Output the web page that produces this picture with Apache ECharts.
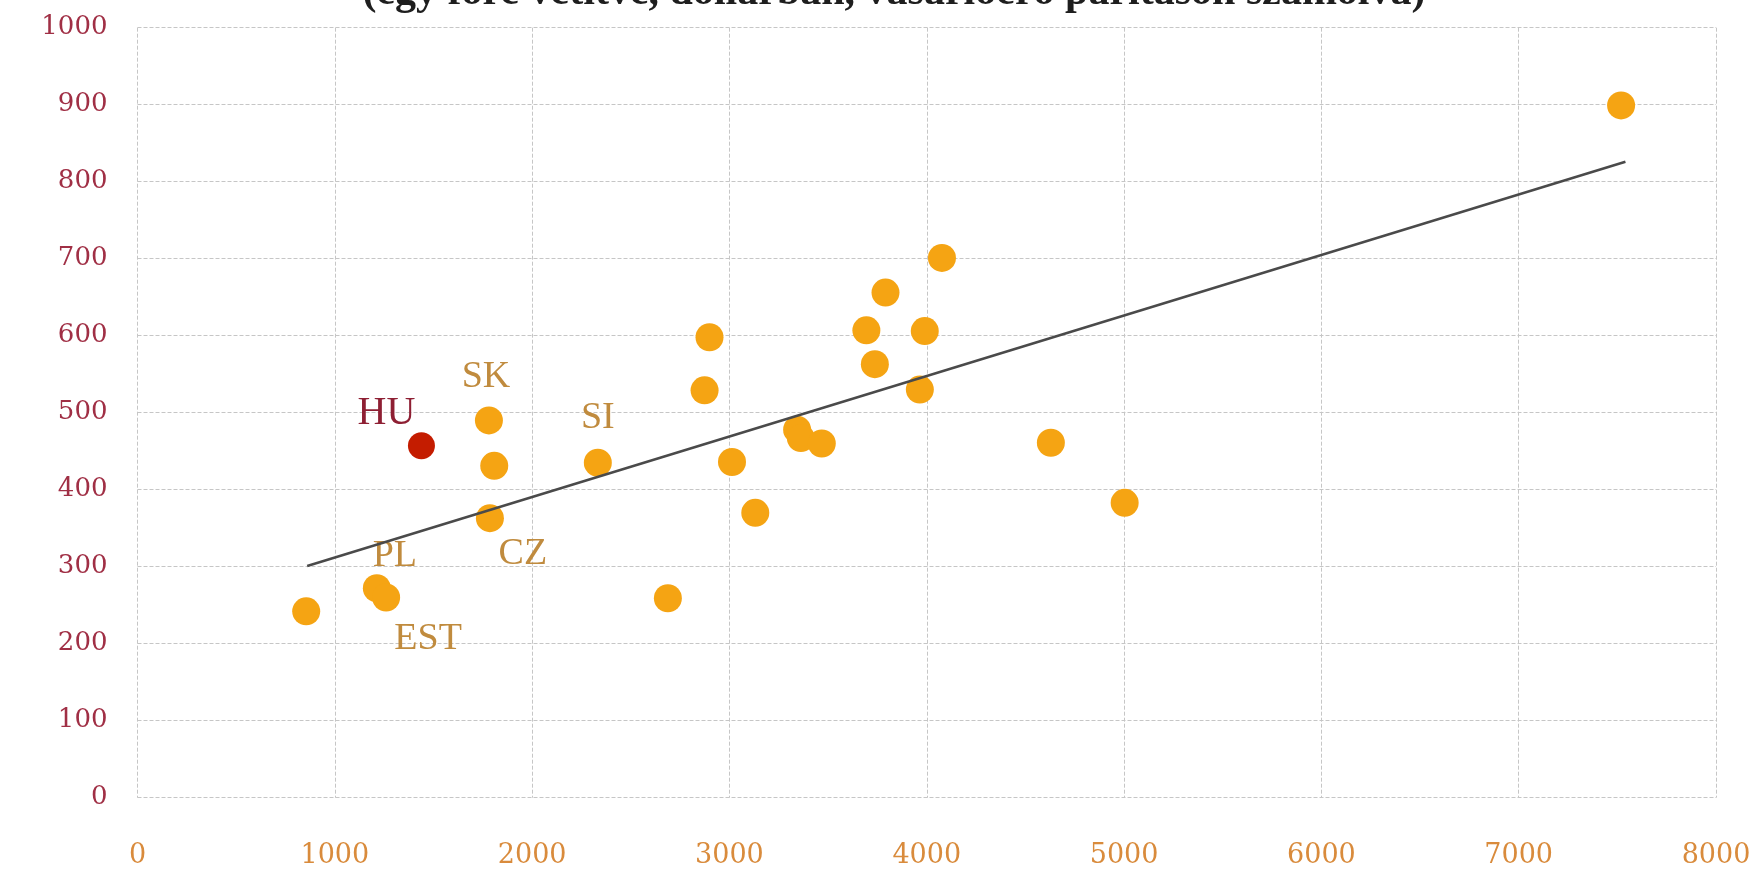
<!DOCTYPE html>
<html>
<head>
<meta charset="utf-8">
<title>Scatter</title>
<script src="https://cdn.jsdelivr.net/npm/echarts@6/dist/echarts.min.js"></script>
<style>
  html, body { margin: 0; padding: 0; background: #ffffff; }
  #chart { width: 1764px; height: 873px; }
</style>
</head>
<body>
<div id="chart"></div>
<script>
// Country observations (x: spending per head, USD PPP; y: value per head)
const xValues = [855, 1213, 1260, 1781, 1808, 1786, 2333, 2688, 2874, 2899, 3013, 3131,
                 3343, 3362, 3468, 3694, 3737, 3791, 3965, 3990, 4077, 4629, 5003, 7519];
const yValues = [242, 272, 260, 490, 431, 363, 435, 259, 529, 598, 436, 370,
                 478, 467, 460, 607, 563, 656, 530, 606, 701, 461, 383, 899];
const codes   = ['', 'PL', 'EST', 'SK', '', 'CZ', 'SI', '', '', '', '', '',
                 '', '', '', '', '', '', '', '', '', '', '', ''];

// Hungary, highlighted
const huX = [1439];
const huY = [457];
const huCode = ['HU'];

// Trend line endpoints
const trendX = [860, 7541];
const trendY = [301, 826];

// Axis ticks
const xTicks = [0, 1000, 2000, 3000, 4000, 5000, 6000, 7000, 8000];
const yTicks = [0, 100, 200, 300, 400, 500, 600, 700, 800, 900, 1000];

const titleText = '(egy főre vetítve, dollárban, vásárlóerő paritáson számolva)';

// Where each country code sits relative to its marker
const labelOffsets = {
  PL: [18, -32], EST: [42, 42], SK: [-3, -43], CZ: [33, 36], SI: [0, -45], HU: [-35, -32]
};

const serif = '"Liberation Serif", "DejaVu Serif", serif';
const gridLine = { show: true, lineStyle: { color: '#c6c6c6', type: [4, 2], width: 1 } };

function points(xs, ys, names) {
  return xs.map((x, i) => {
    const item = { value: [x, ys[i]], name: names[i] };
    if (names[i]) {
      item.label = { show: true, offset: labelOffsets[names[i]] };
    }
    return item;
  });
}

const chart = echarts.init(document.getElementById('chart'), null, { renderer: 'canvas' });
chart.setOption({
  animation: false,
  backgroundColor: '#ffffff',
  title: {
    text: titleText,
    left: 889,
    textAlign: 'center',
    top: -33,
    textStyle: { fontFamily: serif, fontWeight: 'bold', fontSize: 42, color: '#1e1e1e' }
  },
  grid: { left: 137.5, right: 48, top: 27.7, bottom: 75.3, containLabel: false },
  xAxis: {
    type: 'value',
    min: xTicks[0], max: xTicks[xTicks.length - 1], interval: 1000,
    axisLine: { show: false },
    axisTick: { show: false },
    splitLine: gridLine,
    axisLabel: {
      margin: 45, fontFamily: '"DejaVu Serif", serif', fontSize: 27, color: '#d98b3c',
      formatter: v => String(v)
    }
  },
  yAxis: {
    type: 'value',
    min: yTicks[0], max: yTicks[yTicks.length - 1], interval: 100,
    axisLine: { show: false },
    axisTick: { show: false },
    splitLine: gridLine,
    axisLabel: {
      margin: 30, fontFamily: '"DejaVu Serif", serif', fontSize: 26, color: '#a02f45',
      formatter: v => String(v)
    }
  },
  series: [
    {
      type: 'line',
      data: trendX.map((x, i) => [x, trendY[i]]),
      symbol: 'none',
      lineStyle: { color: '#4a4a4a', width: 2.5 },
      z: 3
    },
    {
      type: 'scatter',
      data: points(xValues, yValues, codes),
      symbolSize: 28,
      itemStyle: { color: '#f5a413', opacity: 1 },
      label: {
        show: false, position: 'inside',
        formatter: p => p.name,
        fontFamily: serif, fontSize: 38, color: '#c08b3e'
      },
      z: 2
    },
    {
      type: 'scatter',
      data: points(huX, huY, huCode),
      symbolSize: 27,
      itemStyle: { color: '#c41c00', opacity: 1 },
      label: {
        show: false, position: 'inside',
        formatter: p => p.name,
        fontFamily: serif, fontSize: 40, color: '#8e1f33'
      },
      z: 4
    }
  ]
});
</script>
</body>
</html>
